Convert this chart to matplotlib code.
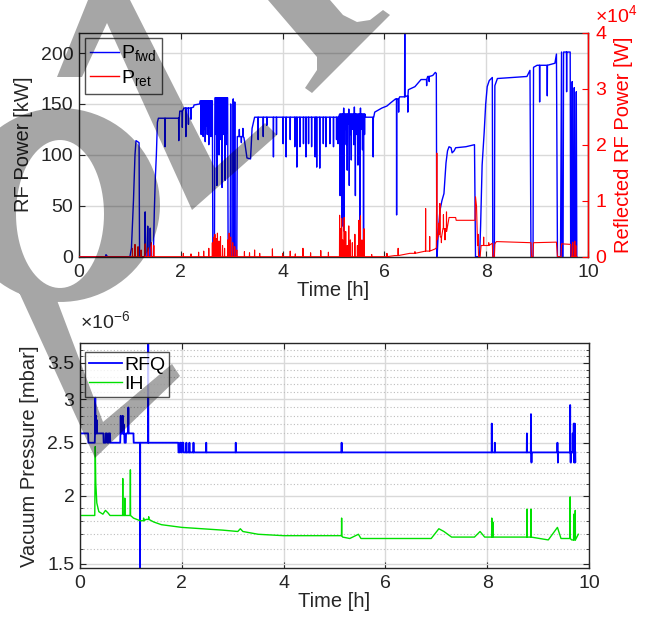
import numpy as np
import matplotlib
matplotlib.use('Agg')
import matplotlib.pyplot as plt
from matplotlib.patches import PathPatch
from matplotlib.path import Path
from matplotlib.ticker import FixedLocator, NullFormatter, FuncFormatter

plt.rcParams['font.family'] = ['Liberation Sans', 'DejaVu Sans']
plt.rcParams['mathtext.fontset'] = 'custom'
plt.rcParams['mathtext.rm'] = 'Liberation Sans'
plt.rcParams['mathtext.it'] = 'Liberation Sans:italic'
plt.rcParams['axes.unicode_minus'] = False

FS = 14      # tick labels / legend
LFS = 14.5   # axis labels
AXC = '#262626'

# --- forward power [kW]: breakpoints of the trace
fwd_t = [0, 0.52, 0.53, 0.56, 1.00, 1.03, 1.07, 1.10, 1.12, 1.18, 1.19, 1.29, 1.30, 1.31,
         1.34, 1.35, 1.36, 1.39, 1.40, 1.41, 1.46, 1.48, 1.50, 1.52, 1.54, 1.56, 1.97, 1.98,
         2.05, 2.06, 2.25, 2.26, 2.37, 2.38, 2.62, 2.63, 2.66, 2.67, 2.92, 2.93, 2.97, 2.98,
         2.99, 3.02, 3.03, 3.04, 3.05, 3.06, 3.07, 3.10, 3.11, 3.24, 3.26, 3.30, 3.37, 3.40,
         3.45, 5.10, 5.12, 5.62, 5.63, 5.79, 5.81, 5.95, 6.05, 6.12, 6.22, 6.30, 6.45, 6.47,
         6.60, 6.72, 6.85, 6.95, 7.00, 7.02, 7.03, 7.04, 7.06, 7.09, 7.13, 7.17, 7.21, 7.24,
         7.27, 7.31, 7.33, 7.37, 7.40, 7.60, 7.77, 7.79, 7.87, 7.89, 7.92, 7.96, 7.99, 8.02,
         8.06, 8.12, 8.13, 8.16, 8.17, 8.22, 8.80, 8.86, 8.88, 8.92, 8.93, 9.00, 9.35, 9.38,
         9.40, 9.46, 9.48, 9.49, 9.51, 9.52, 9.65, 9.66, 9.68, 9.69, 9.70, 9.72, 9.73, 9.74,
         9.76, 9.77, 9.78]
fwd_v = [0, 0, 2, 0, 0, 8, 55, 100, 114, 112, 0, 0, 44, 0,
         0, 30, 0, 0, 28, 0, 0, 45, 78, 100, 132, 136, 136, 143,
         145, 146, 147, 149, 150, 153, 153, 0, 0, 156, 156, 0, 0, 150,
         0, 0, 155, 0, 0, 152, 0, 0, 118, 117, 111, 97, 96, 126,
         137, 137, 140, 140, 137, 137, 142, 146, 148, 151, 155, 157, 158, 164,
         167, 174, 177, 178, 181, 180, 0, 5, 25, 45, 55, 62, 92, 104,
         108, 107, 102, 104, 107, 108, 110, 0, 0, 30, 90, 122, 150, 167,
         173, 176, 0, 0, 168, 175, 177, 183, 0, 0, 186, 188, 190, 199,
         0, 0, 201, 0, 0, 201, 201, 0, 0, 172, 0, 0, 166, 0,
         0, 162, 0]
# short excursions of the forward power (time [h], value [kW])
fwd_spikes = [(1.69, 108), (1.96, 114), (2.03, 127), (2.10, 118), (2.15, 130), (2.20, 135),
              (2.40, 120), (2.42, 131), (2.44, 118), (2.46, 125), (2.48, 113), (2.50, 128),
              (2.52, 120), (2.55, 110), (2.57, 126), (2.59, 118), (2.61, 124),
              (2.69, 120), (2.71, 70), (2.73, 128), (2.75, 100), (2.77, 125), (2.79, 115),
              (2.81, 68), (2.83, 120), (2.85, 126), (2.87, 75), (2.89, 110), (2.91, 122),
              (3.15, 125), (3.19, 112), (3.22, 126),
              (3.52, 115), (3.62, 118), (3.69, 129), (3.82, 98), (3.88, 120), (4.01, 111),
              (4.07, 98), (4.15, 115), (4.24, 108), (4.28, 88), (4.34, 108), (4.41, 111),
              (4.46, 98), (4.51, 111), (4.57, 108), (4.64, 98), (4.67, 88), (4.73, 87),
              (4.80, 111), (4.85, 108), (4.93, 111), (5.00, 108), (5.06, 115), (5.09, 111),
              (5.13, 60), (5.15, 120), (5.17, 30), (5.19, 100), (5.20, 146), (5.21, 25),
              (5.23, 125), (5.25, 110), (5.27, 85), (5.29, 130), (5.30, 145), (5.31, 70),
              (5.33, 120), (5.35, 95), (5.37, 125), (5.40, 110), (5.41, 147), (5.43, 60),
              (5.45, 120), (5.48, 90), (5.50, 130), (5.52, 15), (5.53, 146), (5.55, 125),
              (5.57, 105), (5.59, 12), (5.61, 120),
              (5.78, 98), (6.24, 41), (6.28, 142), (6.40, 230), (6.46, 142), (6.83, 168),
              (6.88, 172), (9.05, 152), (9.20, 158), (9.58, 162)]

# --- reflected power [W]
ret_t = [0, 5.90, 6.20, 6.50, 6.80, 7.00, 7.02, 7.03, 7.035, 7.06, 7.10, 7.15, 7.20, 7.25,
         7.27, 7.40, 7.41, 7.78, 7.79, 7.81, 7.83, 7.85, 7.88, 7.90, 8.12, 8.13, 8.16, 8.17,
         8.20, 8.88, 8.89, 8.92, 8.93, 9.38, 9.40, 9.47, 9.48, 9.66, 9.67, 9.78]
ret_v = [0, 0, 200, 600, 1000, 1400, 1600, 18500, 3000, 4000, 3500, 5000, 4500, 6000,
         7000, 7000, 6500, 6500, 10700, 9000, 2000, 0, 0, 2000, 2400, 0, 0, 2300,
         2700, 2500, 0, 0, 2500, 2600, 0, 0, 2300, 2200, 0, 0]
ret_spikes = [(1.05, 1500), (1.10, 2200), (1.16, 1800), (1.22, 1200), (1.30, 2300),
              (1.36, 1600), (1.42, 2500), (1.47, 2000),
              (2.05, 600), (2.20, 500), (2.35, 800), (2.45, 1000), (2.55, 1500),
              (2.62, 2500), (2.65, 3500), (2.67, 4000), (2.70, 3200), (2.72, 4200),
              (2.75, 2800), (2.78, 3600), (2.82, 2000), (2.86, 1500), (2.92, 3000),
              (2.95, 4200), (2.98, 3500), (3.02, 2500), (3.06, 1800), (3.10, 1200),
              (3.25, 900), (3.35, 700), (3.45, 1200), (3.55, 600), (3.80, 1400), (4.00, 600),
              (4.15, 1000), (4.25, 500), (4.40, 1500), (4.55, 700), (4.75, 1100), (4.90, 800),
              (5.12, 7400), (5.14, 5000), (5.16, 6800), (5.18, 3000), (5.21, 7000),
              (5.24, 4500), (5.27, 2000), (5.30, 5500), (5.33, 3000), (5.37, 2500),
              (5.42, 4000), (5.47, 2000), (5.50, 6500), (5.53, 7300), (5.56, 3000),
              (5.60, 5000), (5.75, 400), (6.05, 600), (6.27, 1500), (6.60, 900),
              (6.81, 8600), (6.89, 3600), (7.07, 6000), (7.09, 9500), (7.12, 2500),
              (7.16, 7500), (7.19, 3000), (7.22, 8000), (7.84, 4000), (7.95, 3500),
              (8.05, 2500), (9.70, 2600), (9.74, 2800), (9.76, 2000)]

# --- vacuum pressure [1e-6 mbar]
rfq_t = [0, 0.16, 0.165, 0.29, 0.295, 0.46, 0.465, 0.50, 0.505, 0.53, 0.535, 0.56, 0.565,
         0.59, 0.595, 0.79, 0.795, 0.87, 0.875, 0.90, 0.905, 1.05, 1.055, 1.93, 1.935,
         1.96, 1.965, 1.98, 1.985, 2.00, 2.005, 2.03, 2.035, 9.73]
rfq_v = [2.6, 2.6, 2.5, 2.5, 2.6, 2.6, 2.5, 2.5, 2.6, 2.6, 2.5, 2.5, 2.6,
         2.6, 2.5, 2.5, 2.6, 2.6, 2.5, 2.5, 2.6, 2.6, 2.5, 2.5, 2.4,
         2.4, 2.5, 2.5, 2.4, 2.4, 2.5, 2.5, 2.4, 2.4]
rfq_spikes = [(0.30, 3.03), (0.31, 2.8), (0.33, 2.75), (0.80, 2.8), (0.82, 2.7), (0.84, 2.8),
              (0.85, 2.65), (0.86, 2.7), (0.95, 2.9), (1.18, 1.4), (1.34, 4.0),
              (2.09, 2.5), (2.15, 2.5), (2.23, 2.5), (2.48, 2.5), (3.06, 2.5), (5.14, 2.5),
              (8.09, 2.71), (8.15, 2.5), (8.78, 2.6), (8.86, 2.82), (8.87, 2.3), (9.38, 2.5),
              (9.39, 2.3), (9.63, 2.93), (9.64, 2.3), (9.68, 2.6), (9.70, 2.71), (9.71, 2.3),
              (9.72, 2.71), (9.73, 2.3)]
ih_t = [0, 0.29, 0.30, 0.31, 0.33, 0.37, 0.45, 0.50, 0.55, 0.59, 1.05, 1.18, 1.30, 1.45,
        1.60, 1.80, 2.00, 2.40, 2.80, 3.10, 3.15, 3.20, 3.50, 4.00, 4.70, 5.10, 5.16, 5.30,
        5.47, 5.52, 6.90, 7.05, 7.15, 7.30, 7.75, 7.86, 7.95, 8.15, 9.20, 9.38, 9.45, 9.60,
        9.66, 9.79]
ih_v = [1.84, 1.84, 2.46, 2.11, 1.94, 1.87, 1.85, 1.88, 1.86, 1.84, 1.82, 1.80, 1.81, 1.79,
        1.77, 1.76, 1.75, 1.74, 1.73, 1.72, 1.74, 1.72, 1.70, 1.69, 1.69, 1.69, 1.68, 1.67,
        1.70, 1.67, 1.67, 1.74, 1.72, 1.68, 1.68, 1.72, 1.68, 1.68, 1.66, 1.75, 1.67, 1.67,
        1.66, 1.70]
ih_spikes = [(0.84, 2.15), (0.88, 1.98), (0.99, 2.23), (1.25, 1.82), (1.35, 1.83),
             (5.14, 1.82), (8.09, 1.82), (8.11, 1.79), (8.78, 1.89), (8.86, 1.89),
             (9.63, 1.99), (9.70, 1.85), (9.73, 1.88)]


def merge(t, v, spikes, w=0.003):
    # base trace held at its last breakpoint, with each short excursion added in
    pts = list(zip(t, v))
    for ts, vs in spikes:
        b = v[np.searchsorted(t, ts, side='right') - 1]
        pts += [(ts - w, b), (ts, vs), (ts + w, b)]
    pts.sort()
    return np.array(pts).T


def style_axes(a):
    for s in a.spines.values():
        s.set_color(AXC)
        s.set_linewidth(1.0)
    a.tick_params(direction='in', length=4.5, width=0.8, colors=AXC, labelcolor=AXC,
                  labelsize=FS, pad=4, top=True)
    a.tick_params(axis='x', pad=5)
    a.set_axisbelow(True)


fig = plt.figure(figsize=(6.47, 6.24), dpi=100)

# ---------------- top panel
ax = fig.add_axes([79 / 647, 1 - 256.7 / 624, 509 / 647, 224 / 624])
style_axes(ax)
ax.tick_params(axis='y', right=False)
ax2 = ax.twinx()

ft, fv = merge(fwd_t, fwd_v, fwd_spikes)
rt, rv = merge(ret_t, ret_v, ret_spikes)
l1, = ax.plot(ft, fv, color='#0000ff', lw=1.0, label=r'P$_{\mathrm{fwd}}$')
l2, = ax2.plot(rt, rv, color='#ff0000', lw=0.8, label=r'P$_{\mathrm{ret}}$')

ax.set_xlim(0, 10)
ax.set_ylim(0, 220)
ax.set_xticks(range(0, 11, 2))
ax.set_yticks(range(0, 201, 50))
ax.grid(True, color='#d9d9d9', lw=1.0)
ax.set_xlabel('Time [h]', fontsize=LFS, color=AXC, labelpad=0)
ax.set_ylabel('RF Power [kW]', fontsize=LFS, color=AXC)
ax.yaxis.set_label_coords(-0.09, 0.5)

ax2.set_ylim(0, 40000)
ax2.set_yticks([0, 10000, 20000, 30000, 40000])
ax2.yaxis.set_major_formatter(FuncFormatter(lambda v, p: f'{v / 1e4:g}'))
ax2.tick_params(direction='in', length=4.5, width=0.8, colors='#ff0000', labelsize=FS, pad=5.5)
ax2.spines['right'].set_color('#ff0000')
ax2.spines['right'].set_linewidth(1.0)
for k in ('left', 'top', 'bottom'):
    ax2.spines[k].set_visible(False)
ax2.set_ylabel('Reflected RF Power [W]', fontsize=LFS, color='#ff0000')
ax2.yaxis.set_label_coords(1.052, 0.5)
fig.text(595 / 647, 1 - 22 / 624, r'×10$^{4}$', color='#ff0000', fontsize=FS, va='baseline')

leg = ax2.legend(handles=[l1, l2], loc='upper left', bbox_to_anchor=(0.011, 0.978),
                 fontsize=FS, frameon=True, fancybox=False, handlelength=1.45,
                 handletextpad=0.12, borderpad=0.3, labelspacing=0.22, borderaxespad=0)
leg.get_frame().set_edgecolor(AXC)
leg.get_frame().set_linewidth(1.0)
for h in leg.legend_handles:
    h.set_linewidth(1.0)

# ---------------- bottom panel
bx = fig.add_axes([80 / 647, 1 - 568.3 / 624, 509 / 647, 225 / 624])
style_axes(bx)
bx.tick_params(which='minor', direction='in', length=2.5, width=0.6, colors=AXC, right=True)
bx.tick_params(axis='y', right=True)

pt, pv = merge(rfq_t, rfq_v, rfq_spikes)
it, iv = merge(ih_t, ih_v, ih_spikes)
m1, = bx.plot(pt, pv, color='#0000ff', lw=1.3, label='RFQ')
m2, = bx.plot(it, iv, color='#00e000', lw=1.0, label='IH')

bx.set_yscale('log')
bx.set_xlim(0, 10)
bx.set_ylim(1.473, 3.80)
bx.set_xticks(range(0, 11, 2))
majors = [1.5, 2, 2.5, 3, 3.5]
bx.yaxis.set_major_locator(FixedLocator(majors))
bx.yaxis.set_major_formatter(FuncFormatter(lambda v, p: f'{v:g}'))
minors = [m / 10 for m in range(15, 39) if m % 5 != 0]
bx.yaxis.set_minor_locator(FixedLocator(minors))
bx.yaxis.set_minor_formatter(NullFormatter())
bx.grid(True, which='major', color='#d9d9d9', lw=1.0)
bx.grid(True, which='minor', axis='y', color='#bdbdbd', lw=0.8, ls=(0, (1, 2)))
bx.set_xlabel('Time [h]', fontsize=LFS, color=AXC, labelpad=0)
bx.set_ylabel('Vacuum Pressure [mbar]', fontsize=LFS, color=AXC)
bx.yaxis.set_label_coords(-0.08, 0.5)
fig.text(80 / 647, 1 - 321 / 624, r'×10$^{-6}$', color=AXC, fontsize=FS, va='center')

leg2 = bx.legend(handles=[m1, m2], loc='upper left', bbox_to_anchor=(0.01, 0.96),
                 fontsize=FS, frameon=True, fancybox=False, handlelength=1.7,
                 handletextpad=0.1, borderpad=0.2, labelspacing=0.08, borderaxespad=0)
leg2.get_frame().set_edgecolor(AXC)
leg2.get_frame().set_linewidth(1.0)

# ---------------- watermark shapes (pixel coordinates, y from top)
def oriented(pts, ccw=True):
    p = np.asarray(pts, float)
    area = 0.5 * np.sum(p[:, 0] * np.roll(p[:, 1], -1) - np.roll(p[:, 0], -1) * p[:, 1])
    return p if (area > 0) == ccw else p[::-1]


def ellipse(cx, cy, a, b, n=90):
    th = np.linspace(0, 2 * np.pi, n, endpoint=False)
    return np.column_stack([cx + a * np.cos(th), cy + b * np.sin(th)])


shapes = [
    oriented([(88, 0), (130, 0), (215, 168), (265, 123), (277, 135), (192, 210), (107, 23),
              (82, 77), (57, 77)]),
    oriented([(268, 0), (330, 0), (343, 15), (357, 22), (370, 20), (383, 10), (390, 15),
              (312, 93), (305, 88), (317, 70), (317, 57)]),
    oriented(ellipse(60, 205, 100, 97)),
    oriented(ellipse(60, 214, 44, 74), ccw=False),
    oriented([(18, 290), (55, 295), (103, 422), (172, 364), (180, 376), (95, 458)]),
]
verts, codes = [], []
for s in shapes:
    xy = np.column_stack([s[:, 0] / 647, 1 - s[:, 1] / 624])
    verts += list(xy) + [xy[0]]
    codes += [Path.MOVETO] + [Path.LINETO] * (len(xy) - 1) + [Path.CLOSEPOLY]
fig.add_artist(PathPatch(Path(verts, codes), transform=fig.transFigure, facecolor='black',
                         edgecolor='none', alpha=0.35, zorder=20))

fig.savefig('out.png', dpi=100)
